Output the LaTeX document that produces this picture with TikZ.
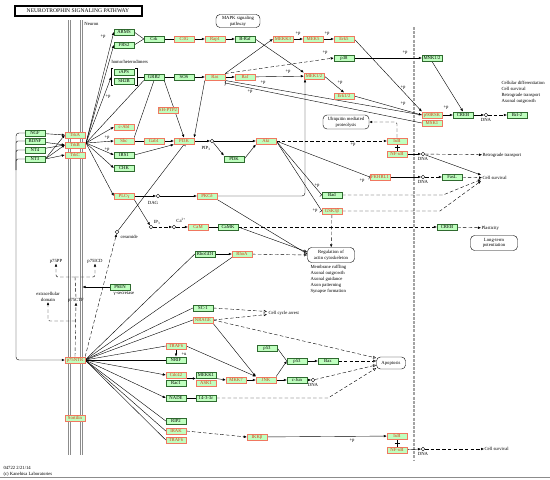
\documentclass[tikz,border=0pt]{standalone}
\usepackage{fontspec}
\setmainfont{Liberation Serif}
\usepackage{xcolor}
\usepackage{tikz}
\usetikzlibrary{arrows.meta,positioning,calc,backgrounds}
\definecolor{kfill}{HTML}{BFFFBF}
\definecolor{kline}{HTML}{2F6A2F}
\definecolor{kred}{HTML}{F07860}
\definecolor{ktext}{HTML}{D83A14}
\definecolor{mgray}{HTML}{8C8C8C}
\newcommand{\kf}{\fontsize{4.7}{5.8}\selectfont}

\begin{document}
\begin{tikzpicture}[x=1pt,y=-1pt,line width=0.4pt,
  gbox/.style={draw=kline,fill=kfill,minimum width=20pt,minimum height=6.6pt,inner sep=0pt,font=\kf},
  rbox/.style={gbox,draw=kred,text=ktext},
  cpd/.style={circle,draw,fill=white,inner sep=0pt,minimum size=3.6pt},
  proc/.style={draw,rounded corners=4pt,align=center,font=\kf,inner sep=1.2pt},
  lbl/.style={font=\kf,inner sep=0.3pt,align=left},
  act/.style={-{Latex[length=3pt,width=2.6pt]}},
  ind/.style={act,dash pattern=on 3.5pt off 2.2pt},
  inh/.style={-{Bar[width=5pt]}},
  outs/.style={-{Latex[open,length=3.2pt,width=3pt]}},
  outc/.style={outs,dash pattern=on 3.5pt off 2.2pt}]
  \useasboundingbox (0,0) rectangle (550,480);
  \node[draw,line width=0.9pt,minimum width=128pt,minimum height=11pt,
        font=\fontsize{5.6}{6}\selectfont] (title) at (78,10.5) {NEUROTROPHIN SIGNALING PATHWAY};
  \draw[line width=0.3pt] ($(title.north west)+(1.4,1.4)$) rectangle ($(title.south east)+(-1.4,-1.4)$);

  \foreach \n/\x/\y/\t in {arms/124/32/ARMS,frs2/124/45/FRS2,crk/154/39/Crk,braf/245/39/B-Raf,
      raps/124/72/rAPS,shb/124/81/SH2B,grb/154/77/GRB2,sos/184/77/SOS,ptt/344/58/p38,
      mnk/432/58/{MNK1/2},creb/463/115/CREB,bcl/517/115/Bcl-2,ngf/35/133/NGF,bdnf/35/141/BDNF,
      ntf/35/150/NT4,ntt/35/159/NT3,irs/124/155/IRS1,chk/124/168/CHK,pdk/234/159/PDK,
      camk/228/227/CaMK,fasl/452/177/FasL,bad/332/195/Bad,crebb/447/227/CREB,rhogdi/205/254/RhoGDI,
      psen/120/287/PSEN,scone/203/308/SC-1,nrif/176/360/NRIF,pfa/267/348/p53,pfb/297/361/p53,
      bax/328/361/Bax,rac/176/383/Rac1,mekk/206/375/MEKK1,cjun/297/380/c-Jun,nade/176/398/NADE,
      ftt/206/398/14-3-3ε,rip/176/421/RIP2}
    \node[gbox] (\n) at (\x,\y) {\t};
  \foreach \n/\x/\y/\t in {mekkc/283/39/MEKK3,mekf/313/39/MEK5,erkf/344/39/Erk5,cthreeg/184/39/C3G,
      rapone/215/39/Rap1,ras/215/77/Ras,raf/245/77/Raf,mek/314/76/{MEK1/2},erk/344/96/{Erk1/2},
      rsk/432/115/p90RSK,msk/432/123/MSK1,trka/75/135/TrkA,trkb/75/145/TrkB,trkc/75/155/TrkC,
      shptp/168/110/SH-PTP2,cabl/124/127/c-Abl,shc/124/141/Shc,gab/154/141/Gab1,pik/184/141/PI3K,
      akt/266/141/Akt,ikb/397/141/IκB,nfkb/397/154/NF-κB,fkhr/380/177/FKHRL1,plc/124/196/PLCγ,
      pkc/207/196/PKCδ,gsk/332/211/GSK3β,cam/198/227/CaM,rhoa/242/254/RhoA,nrage/203/320/NRAGE,
      traf/176/346/TRAF6,ptf/75/360/p75NTR,cdc/176/375/Cdc42,ask/206/383/ASK1,mkk/236/380/MKK7,
      jnk/266/380/JNK,sort/75/418/Sortilin,irak/176/431/IRAK,trafb/176/440/TRAF6,ikk/257/437/IKKβ,
      ikbb/397/436/IκB,nfkbb/397/450/NF-κB}
    \node[rbox] (\n) at (\x,\y) {\t};
  \foreach \n/\x/\y in {pipt/212/141,dag/158/196,ipt/151/227,ca/174/227,cer/117/232,
      dnaa/486/115,dnab/423/154,dnac/423/177,dnad/313/380,dnae/423/449}
    \node[cpd] (\n) at (\x,\y) {};
  \foreach \n in {dnaa,dnab,dnac,dnad,dnae}
    \node[lbl,below=0.6pt of \n] (\n l) {DNA};

  \node[proc,minimum width=44pt,minimum height=13pt] (mapk) at (238,21) {MAPK signaling\\pathway};
  \node[proc,minimum width=46pt,minimum height=14pt] (ubq) at (346,122) {Ubiquitin mediated\\proteolysis};
  \node[proc,minimum width=47pt,minimum height=15pt] (actin) at (331,255) {Regulation of\\actin cytoskeleton};
  \node[proc,minimum width=47pt,minimum height=15pt] (ltp) at (494,243) {Long-term\\potentiation};
  \node[proc,minimum width=29pt,minimum height=12pt] (apop) at (391,363) {Apoptosis};

  \node[lbl,anchor=west] (neuron) at (84,24) {Neuron};
  \node[lbl,anchor=west] (dimer) at (111,62) {homo/heterodimers};
  \node[lbl,anchor=west] (outa) at (501,92.5) {Cellular differentiation\\Cell survival\\Retrograde transport\\Axonal outgrowth};
  \node[lbl,anchor=west] (retro) at (482,155) {Retrograde transport};
  \node[lbl,anchor=west] (survb) at (482,178) {Cell survival};
  \node[lbl,anchor=west] (plast) at (481,228) {Plasticity};
  \node[lbl,anchor=west] (arrest) at (268,313) {Cell cycle arrest};
  \node[lbl,anchor=west] (survc) at (484,449) {Cell survival};
  \node[lbl,anchor=north west] (effects) at (310,265) {Membrane ruffling\\Axonal outgrowth\\Axonal guidance\\Axon patterning\\Synapse formation};
  \node[lbl] (piptl) at (206,148) {PIP\textsubscript{3}};
  \node[lbl] (dagl) at (153,203) {DAG};
  \node[lbl] (iptl) at (157,222) {IP\textsubscript{3}};
  \node[lbl] (cal) at (181,220) {Ca\textsuperscript{2+}};
  \node[lbl,anchor=west] (cerl) at (120,237) {ceramide};
  \node[lbl] (gsec) at (124,294) {γ-secretase};
  \node[lbl] (ppl) at (56,261) {p75PP};
  \node[lbl] (icd) at (95,261) {p75ICD};
  \node[lbl] (ctf) at (76,300) {p75CTF};
  \node[lbl,align=center] (ecd) at (48,297) {extracellular\\domain};
  \node[lbl] (ubl) at (184,354) {+u};
  \node[lbl,anchor=west] (date) at (3,468) {04722 2/21/14};
  \node[lbl,anchor=west] (copy) at (3,474) {(c) Kanehisa Laboratories};
  \foreach \x/\y [count=\i] in {103/37,108/97,107/138,107/150,288/72,298/34,327/34,325/53,405/53,
      340/83,403/88,403/104,446/108,263/83,250/92,353/145,362/181,317/186,315/211,352/441}
    \node[lbl] (pl\i) at (\x,\y) {+p};

  \coordinate (trkout) at (86,143);
  \coordinate (pout) at (85,360);
  \coordinate (dimin) at (111.2,77);
  \coordinate (dimout) at (136.8,77);
  \coordinate (mekin) at (305,79.3);
  \coordinate (pkcup) at (305,196);
  \coordinate (cut) at (82.5,287);
  \coordinate (jecd) at (75,321);
  \coordinate (jicd) at (75,277);
  \coordinate (badc) at (443,195);
  \coordinate (gskc) at (440,211);
  \coordinate (fttc) at (328,398);

  \begin{scope}[on background layer]
    \foreach \m in {68.3,70.6,80.2,82.5}
      \draw[mgray,line width=1pt] (\m,20) -- (\m,455);
    \draw[mgray!80,line width=2.4pt,dash pattern=on 3pt off 1.2pt] (414,27) -- (414,460);
    \draw[mgray,line width=0.8pt] (0,477.5) -- (550,477.5);

    \draw[act] (ngf) -- (trka.west);
    \draw[act] (bdnf) -- (trkb.west);
    \draw[act] (ntf) -- (trkb.west);
    \foreach \t in {trka,trkb,trkc}
      \draw[act] (ntt.east) -- (\t.west);
    \draw[act,rounded corners=3pt] (ngf.west) -| (16,360) -- (ptf.west);
    \foreach \n in {bdnf,ntf,ntt}
      \draw[rounded corners=2pt] (\n.west) -| (16,170);

    \foreach \t in {arms,frs2,cabl,shc,irs,chk,plc}
      \draw[act] (trkout) -- (\t.west);
    \draw[act] (trkout) -- (dimin);
    \draw (trkout) -- (grb.south west);
    \draw (113,68.5) -- (111.2,68.5) -- (111.2,85) -- (113,85);
    \draw (135,68.5) -- (136.8,68.5) -- (136.8,85) -- (135,85);
    \draw (dimout) -- (grb);
    \draw (arms.east) -- (crk.west);
    \draw (frs2.east) -- (crk.west);
    \draw (crk) -- (cthreeg);
    \draw[act] (cthreeg) -- (rapone);
    \draw[act] (rapone) -- (braf);
    \draw[act] (braf.east) -- (mek.north west);
    \draw[act] (ras.north east) -- (mekkc.west);
    \draw[act] (mekkc) -- (mekf);
    \draw[act] (mekf) -- (erkf);
    \draw[act] (erkf.east) -- (rsk.north west);
    \draw (grb) -- (sos);
    \draw[act] (sos) -- (ras);
    \draw[act] (ras) -- (raf);
    \draw[act] (raf) -- (mek);
    \draw[act] (mek.east) -- (erk.north);
    \draw[act] (erk.east) -- (rsk.west);
    \draw[ind] (ras.north east) -- (ptt.west);
    \draw[act] (ptt) -- (mnk);
    \draw[act] (mnk.south) -- (creb.north);
    \draw[act] (rsk) -- (creb);
    \draw[act] (creb) -- (dnaa);
    \draw[ind] (dnaa) -- (bcl);
    \draw[inh] (rsk.west) -- (ras.south east);
    \draw[inh] (msk.west) -- ($(ras.south east)+(0,2.5)$);

    \draw (shc.north east) -- (grb.south);
    \draw (shc) -- (gab);
    \draw[act] (gab) -- (pik);
    \draw[act] (irs.east) -- (pik.south west);
    \draw[act] (grb.south east) -- (pik.north);
    \draw[act] (ras.south west) -- (pik.north east);
    \draw[act] (pik) -- (pipt);
    \draw[act] (pipt) -- (akt);
    \draw[act] (pipt) -- (pdk.north west);
    \draw[act] (pdk.east) -- (akt.south west);
    \draw[inh] (cer) -- (pik.south);
    \draw[ind] (ptf.north east) -- (cer);

    \draw[act] (plc) -- (dag);
    \draw[act] (dag) -- (pkc);
    \draw[act] (plc.south east) -- (ipt);
    \draw[ind] (ipt) -- (ca);
    \draw[ind] (ca) -- (cam);
    \draw (cam) -- (camk);
    \draw[ind] (camk) -- (crebb);
    \draw[ind] (crebb) -- (plast);
    \draw[outs] (camk.east) -- ($(actin.west)+(0,-3)$);
    \draw[outs] (pkc.south east) -- ($(actin.west)+(0,-1)$);
    \draw[outc] (rhoa) -- (actin.west);
    \draw[act] (rhogdi) -- (rhoa);
    \draw[act,rounded corners=3pt] (pkc.east) -- (pkcup) -- (mekin);
    \draw[ind] (gsk) -- (actin);

    \draw[ind] (akt.east) -- (ikb.west);
    \draw[inh] (akt.east) -- (fkhr.west);
    \draw[inh] (akt.east) -- (bad.west);
    \draw[inh] (akt.east) -- (gsk.west);
    \draw[ind,rounded corners=2pt] (ikb.north) |- (ubq.east);
    \draw (ikb.south) -- (nfkb.north);
    \draw ($(ikb.south)!0.5!(nfkb.north)+(-2.5,0)$) -- ++(5,0);
    \draw[act] (nfkb) -- (dnab);
    \draw[ind] (dnab) -- (retro);
    \draw[act] (dnab) -- ($(survb.west)+(-1,-3)$);
    \draw[act] (fkhr) -- (dnac);
    \draw[ind] (dnac) -- (fasl);
    \draw[ind] (fasl) -- (survb);
    \draw[ind] (bad.east) -- (badc) -- ($(survb.west)+(-1,1.5)$);
    \draw[ind] (gsk.east) -- (gskc) -- ($(survb.west)+(-1,3)$);

    \draw[act] (psen.west) -- (cut);
    \draw[ind] (ptf.north) -- (ctf.south);
    \draw[ind,rounded corners=2pt] (jecd) -| (ecd.south);
    \draw[dash pattern=on 3.5pt off 2.2pt] (ctf.north) -- (jicd);
    \draw[ind,rounded corners=2pt] (jicd) -| (ppl.south);
    \draw[ind,rounded corners=2pt] (jicd) -| (icd.south);

    \foreach \t in {rhogdi,scone,nrage,traf,nrif,rip,irak,trafb}
      \draw (pout) -- (\t.west);
    \draw (pout) -- (rhoa.south west);
    \foreach \t in {cdc,nade}
      \draw[act] (pout) -- (\t.west);
    \draw[outc] (scone.east) -- ($(arrest.west)+(-1,-1.5)$);
    \draw[outc] (nrage.east) -- ($(arrest.west)+(-1,1.5)$);
    \draw[outc] (nrage.east) -- ($(apop.west)+(0,-5)$);
    \draw[act] (traf) -- (nrif);
    \draw[act] (traf.east) -- (jnk.north west);
    \draw[act] (nrage.south east) -- (jnk.north west);
    \draw[act] (cdc.south east) -- (mekk.south west);
    \draw[act] (mekk.south east) -- (mkk.west);
    \draw[act] (mkk) -- (jnk);
    \draw[act] (jnk) -- (cjun);
    \draw[act] (cjun) -- (dnad);
    \draw[outc] (dnad) -- ($(apop.west)+(0,2)$);
    \draw (pfa.east) -- (pfb.west);
    \draw[act] (jnk.north east) -- (pfb.west);
    \draw[act] (pfb) -- (bax);
    \draw[outc] (bax) -- ($(apop.west)+(0,-2)$);
    \draw (nade) -- (ftt);
    \draw[outc] (ftt.east) -- (fttc) -- ($(apop.west)+(0,5)$);

    \draw[ind] (irak.east) -- (ikk.west);
    \draw[act] (ikk) -- (ikbb);
    \draw (ikbb.south) -- (nfkbb.north);
    \draw ($(ikbb.south)!0.5!(nfkbb.north)+(-2.5,0)$) -- ++(5,0);
    \draw[act] (nfkbb) -- (dnae);
    \draw[ind] (dnae) -- (survc);
  \end{scope}
\end{tikzpicture}
\end{document}
